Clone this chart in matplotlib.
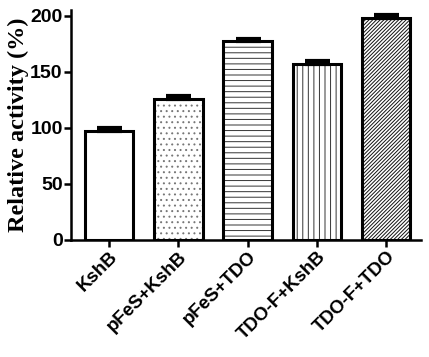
import matplotlib
matplotlib.use('Agg')
import matplotlib.pyplot as plt

labels = ['KshB', 'pFeS+KshB', 'pFeS+TDO', 'TDO-F+KshB', 'TDO-F+TDO']
activity = [97.5, 126, 177, 157, 198]
errors = [2.5, 2.5, 2.5, 2.5, 2.5]
hatches = ['', '...', '---', '|||', '/' * 9]
hatch_colors = ['black', '#777777', '#333333', '#333333', '#111111']

plt.rcParams['hatch.linewidth'] = 0.7

fig = plt.figure(figsize=(4.29, 3.57), dpi=100)
ax = fig.add_axes([0.1655, 0.328, 0.8155, 0.644])

x = range(len(labels))
for i in x:
    # hatch fill first, then the thick black outline on top
    ax.bar(i, activity[i], width=0.7, color='white', edgecolor=hatch_colors[i],
           linewidth=0, hatch=hatches[i], zorder=2)
    ax.bar(i, activity[i], width=0.7, color='none', edgecolor='black',
           linewidth=2.2, zorder=2.5)
ax.errorbar(list(x), activity, yerr=[[0] * len(errors), errors], fmt='none',
            ecolor='black', elinewidth=2.5, capsize=9, capthick=3, zorder=3)

ax.set_xlim(-0.55, 4.5)
ax.set_ylim(0, 205)
ax.set_yticks([0, 50, 100, 150, 200])
ax.set_xticks(list(x))
ax.set_xticklabels(labels, rotation=45, ha='right', rotation_mode='anchor',
                   fontsize=13.5, fontweight='bold', family='Liberation Sans')
for t in ax.get_yticklabels():
    t.set_fontsize(14)
    t.set_fontweight('bold')
    t.set_family('Liberation Sans')

ax.spines['top'].set_visible(False)
ax.spines['right'].set_visible(False)
ax.spines['left'].set_linewidth(1.8)
ax.spines['bottom'].set_linewidth(1.8)
ax.tick_params(axis='both', direction='out', length=5, width=1.8, pad=1)

ax.set_ylabel('Relative activity (%)', fontsize=17.5, fontweight='bold',
              family='Liberation Serif', labelpad=1)

fig.savefig('out.png', dpi=100)
